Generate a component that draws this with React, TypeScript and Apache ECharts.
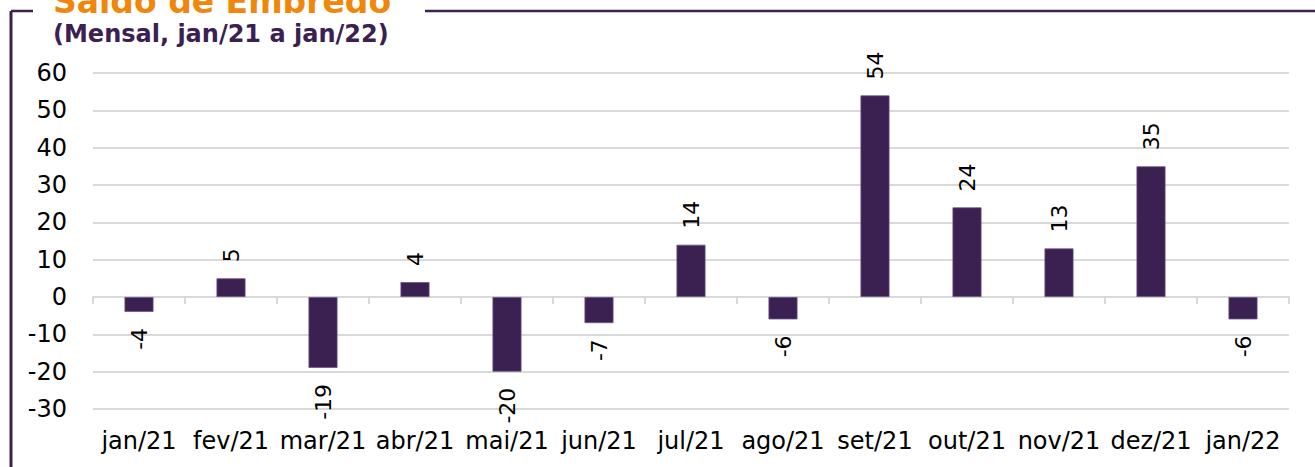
import React, { useEffect, useRef } from "react";
import * as echarts from "echarts";

const categories = [
  "jan/21", "fev/21", "mar/21", "abr/21", "mai/21", "jun/21", "jul/21",
  "ago/21", "set/21", "out/21", "nov/21", "dez/21", "jan/22",
];
const saldo = [-4, 5, -19, 4, -20, -7, 14, -6, 54, 24, 13, 35, -6];
const titleText = "Saldo de Emprego";
const subtitleText = "(Mensal, jan/21 a jan/22)";

const PURPLE = "#3b2052";
const FONT = "'DejaVu Sans', Verdana, sans-serif";

export default function App() {
  const ref = useRef<HTMLDivElement>(null);
  useEffect(() => {
    if (!ref.current) return;
    const chart = echarts.init(ref.current, undefined, { renderer: "svg" });
    chart.setOption({
      animation: false,
      backgroundColor: "#ffffff",
      textStyle: { fontFamily: FONT },
      grid: { left: 93, right: 26, top: 73, bottom: 58, containLabel: false },
      xAxis: [
        {
          type: "category",
          data: categories,
          position: "bottom",
          axisLine: { show: true, onZero: true, lineStyle: { color: "#d9d9d9", width: 2 } },
          axisTick: { show: true, length: 7, lineStyle: { color: "#d9d9d9", width: 2 } },
          axisLabel: { show: false },
          splitLine: { show: false },
        },
        {
          type: "category",
          data: categories,
          position: "bottom",
          axisLine: { show: false, onZero: false },
          axisTick: { show: false },
          axisLabel: { show: true, interval: 0, margin: 20, fontSize: 24, color: "#000", fontFamily: FONT },
          splitLine: { show: false },
        },
      ],
      yAxis: {
        type: "value",
        min: -30,
        max: 60,
        interval: 10,
        axisLine: { show: false },
        axisTick: { show: false },
        axisLabel: { margin: 26, fontSize: 24, color: "#000", fontFamily: FONT },
        splitLine: { show: true, lineStyle: { color: "#d9d9d9", width: 2 } },
      },
      series: [
        {
          type: "bar",
          xAxisIndex: 0,
          barWidth: 29,
          data: saldo.map((v) => ({
            value: v,
            label:
              v >= 0
                ? { position: "top", align: "left", verticalAlign: "middle" }
                : { position: "bottom", align: "right", verticalAlign: "middle" },
          })),
          itemStyle: { color: PURPLE, borderColor: "#6a5585", borderWidth: 0.8 },
          label: {
            show: true,
            rotate: 90,
            distance: 16,
            fontSize: 22,
            color: "#000",
            fontFamily: FONT,
          },
        },
      ],
      graphic: [
        {
          type: "text",
          style: {
            text: titleText,
            x: 53,
            y: 1.5,
            font: `bold 33px ${FONT}`,
            fill: "#f0860a",
            verticalAlign: "middle",
          },
          z: 10,
        },
        {
          type: "rect",
          shape: { x: 30, y: 13, width: 400, height: 40 },
          style: { fill: "#ffffff" },
          z: 11,
        },
        {
          type: "text",
          style: {
            text: subtitleText,
            x: 53,
            y: 34,
            font: `bold 24px ${FONT}`,
            fill: PURPLE,
            verticalAlign: "middle",
          },
          z: 12,
        },
        {
          type: "line",
          shape: { x1: 11, y1: 11, x2: 11, y2: 470 },
          style: { stroke: PURPLE, lineWidth: 3 },
          z: 12,
        },
        {
          type: "line",
          shape: { x1: 11, y1: 11, x2: 33, y2: 11 },
          style: { stroke: PURPLE, lineWidth: 2.5 },
          z: 12,
        },
        {
          type: "line",
          shape: { x1: 425, y1: 11, x2: 1315, y2: 11 },
          style: { stroke: PURPLE, lineWidth: 2.5 },
          z: 12,
        },
      ],
    });
    return () => chart.dispose();
  }, []);
  return (
    <div
      ref={ref}
      style={{ position: "fixed", left: 0, top: 0, width: 1315, height: 467 }}
    />
  );
}
